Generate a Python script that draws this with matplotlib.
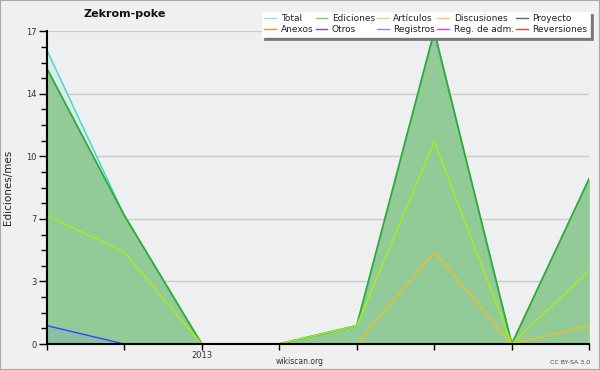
import matplotlib
matplotlib.use("Agg")
import matplotlib.pyplot as plt
from matplotlib.lines import Line2D
from matplotlib.patches import Rectangle
import numpy as np

# monthly values (one point per month), only January 2013 gets a label
month_labels = ["", "", "2013", "", "", "", "", ""]
total = [16, 7, 0, 0, 1, 17, 0, 9]
edits = [15, 7, 0, 0, 1, 17, 0, 9]
articles = [7, 5, 0, 0, 1, 11, 0, 4]
discussions = [0, 0, 0, 0, 0, 5, 0, 1]
logs = [1, 0, 0, 0, 0, 0, 0, 0]

y_max = 17
y_major = [0, 3.4, 6.8, 10.2, 13.6, 17]
y_major_labels = ["0", "3", "7", "10", "14", "17"]

legend_names = ["Total", "Ediciones", "Artículos", "Discusiones", "Proyecto",
                "Anexos", "Otros", "Registros", "Reg. de adm.", "Reversiones"]
legend_colors = ["#9adede", "#80c880", "#c8ec60", "#ffcc66", "#666666",
                 "#ff8844", "#8844cc", "#8888ff", "#dd44dd", "#ee4444"]

plt.rcParams["font.family"] = "DejaVu Sans"

fig = plt.figure(figsize=(6, 3.7), dpi=100, facecolor="#f0f0f0")
fig.patches.append(Rectangle((0, 0), 1, 1, transform=fig.transFigure,
                             fill=False, edgecolor="#aaaaaa", linewidth=1.5))
ax = fig.add_axes([46.7 / 600, 26 / 370, 542.6 / 600, 312.7 / 370])
ax.set_facecolor("#eeeff0")

x = np.arange(len(total))
ax.fill_between(x, total, 0, color="#d6efea", linewidth=0, zorder=1)
ax.fill_between(x, edits, 0, color="#93cb98", linewidth=0, zorder=1.1)
ax.fill_between(x, logs, 0, color="#8bbfa3", linewidth=0, zorder=1.2)
ax.plot(x, total, color="#3dd6d0", lw=1, zorder=2)
ax.plot(x, edits, color="#33aa33", lw=1.3, zorder=2.1)
ax.plot(x, articles, color="#aaee11", lw=1, zorder=2.2)
ax.plot(x, discussions, color="#f0c020", lw=1, zorder=2.3)
ax.plot(x, logs, color="#3344ff", lw=1, zorder=2.4)

ax.set_xlim(0, len(total) - 1)
ax.set_ylim(0, y_max)
ax.set_yticks(y_major)
ax.set_yticklabels(y_major_labels)
ax.set_yticks(np.arange(0, y_max + 0.01, 0.85), minor=True)
ax.set_xticks(x)
ax.set_xticklabels(month_labels)
ax.grid(axis="y", color="#cccccc", linewidth=1, zorder=0)
ax.set_axisbelow(True)
for s in ["top", "right"]:
    ax.spines[s].set_visible(False)
for s in ["left", "bottom"]:
    ax.spines[s].set_linewidth(1.5)
    ax.spines[s].set_zorder(5)
ax.tick_params(axis="y", which="major", length=6, width=1, labelsize=6, colors="#333333", pad=1)
ax.tick_params(axis="y", which="minor", length=4, width=1)
ax.tick_params(axis="x", length=4, width=1, labelsize=6, colors="#333333", pad=1)
ax.tick_params(axis="both", color="black")

ax.set_ylabel("Ediciones/mes", fontsize=7.5, color="#222222")
ax.yaxis.set_label_coords(-0.063, 0.5)

fig.text(125 / 600, 1 - 14 / 370, "Zekrom-poke", fontsize=8, fontweight="bold",
         ha="center", va="center", color="#111111")
fig.text(300 / 600, 1 - 361 / 370, "wikiscan.org", fontsize=5.5, ha="center",
         va="center", color="#333333")
fig.text(590 / 600, 1 - 362 / 370, "CC BY-SA 3.0", fontsize=4.5, ha="right",
         va="center", color="#444444")

# legend, row by row (matplotlib fills column by column)
handles = [Line2D([], [], color=c, lw=1) for c in legend_colors]
order = [0, 5, 1, 6, 2, 7, 3, 8, 4, 9]
leg = fig.legend([handles[i] for i in order], [legend_names[i] for i in order],
                 ncol=5, loc="upper right", bbox_to_anchor=(590 / 600, 1 - 11.5 / 370),
                 fontsize=6.5, frameon=True, fancybox=False, handlelength=1.3,
                 handletextpad=0.5, columnspacing=0.25, labelspacing=0.2,
                 borderpad=0.3, borderaxespad=0,
                 shadow={"color": "#777777", "alpha": 1})
leg.get_frame().set_edgecolor("#ffffff")
leg.get_frame().set_linewidth(0.5)
for t in leg.get_texts():
    t.set_color("#222222")

fig.savefig("out.png", dpi=100, facecolor=fig.get_facecolor())
